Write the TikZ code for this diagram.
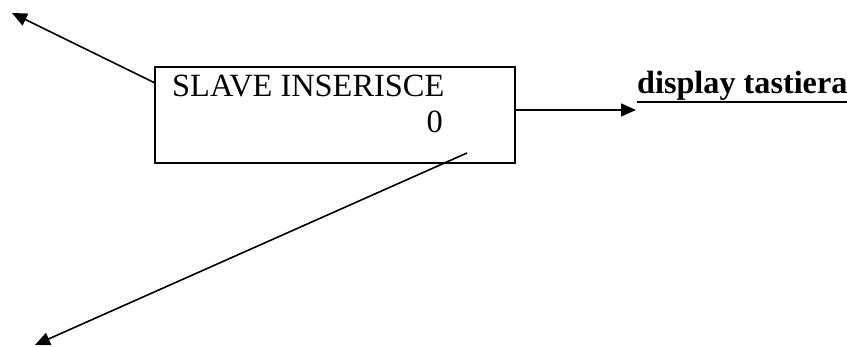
\documentclass[tikz,border=0pt]{standalone}
\usepackage{fontspec}
\setmainfont{Liberation Serif}
\usetikzlibrary{arrows.meta,calc}
\begin{document}
\begin{tikzpicture}[x=1pt,y=-1pt,
  conn/.style={line width=1.6pt,-{Triangle[length=15pt,width=13pt]}},
  boxstyle/.style={draw,line width=1.8pt,minimum width=360pt,minimum height=96pt,inner sep=0pt},
  txt/.style={inner sep=0pt,font=\fontsize{32.4}{38}\selectfont}]
\useasboundingbox (0,0) rectangle (847,347);
\node[boxstyle] (box) at (335,115) {};
\node[txt,anchor=base west] (t1) at (172,97) {SLAVE INSERISCE};
\node[txt,anchor=base east] (t2) at (443,133) {0};
\node[txt,anchor=base west,font=\fontsize{32.2}{38}\selectfont\bfseries] (lbl) at (637,94) {display tastiera};
\draw[line width=2.8pt] ($(lbl.base west)+(0,8)$) -- ($(lbl.base east)+(0,8)$);
\coordinate (s1) at (155,83);
\coordinate (e1) at (12,13);
\coordinate (s2) at (515,110);
\coordinate (e2) at (636,110);
\coordinate (s3) at (467,153);
\coordinate (e3) at (35,345);
\draw[conn] (s1) -- (e1);
\draw[conn] (s2) -- (e2);
\draw[conn] (s3) -- (e3);
\end{tikzpicture}
\end{document}
